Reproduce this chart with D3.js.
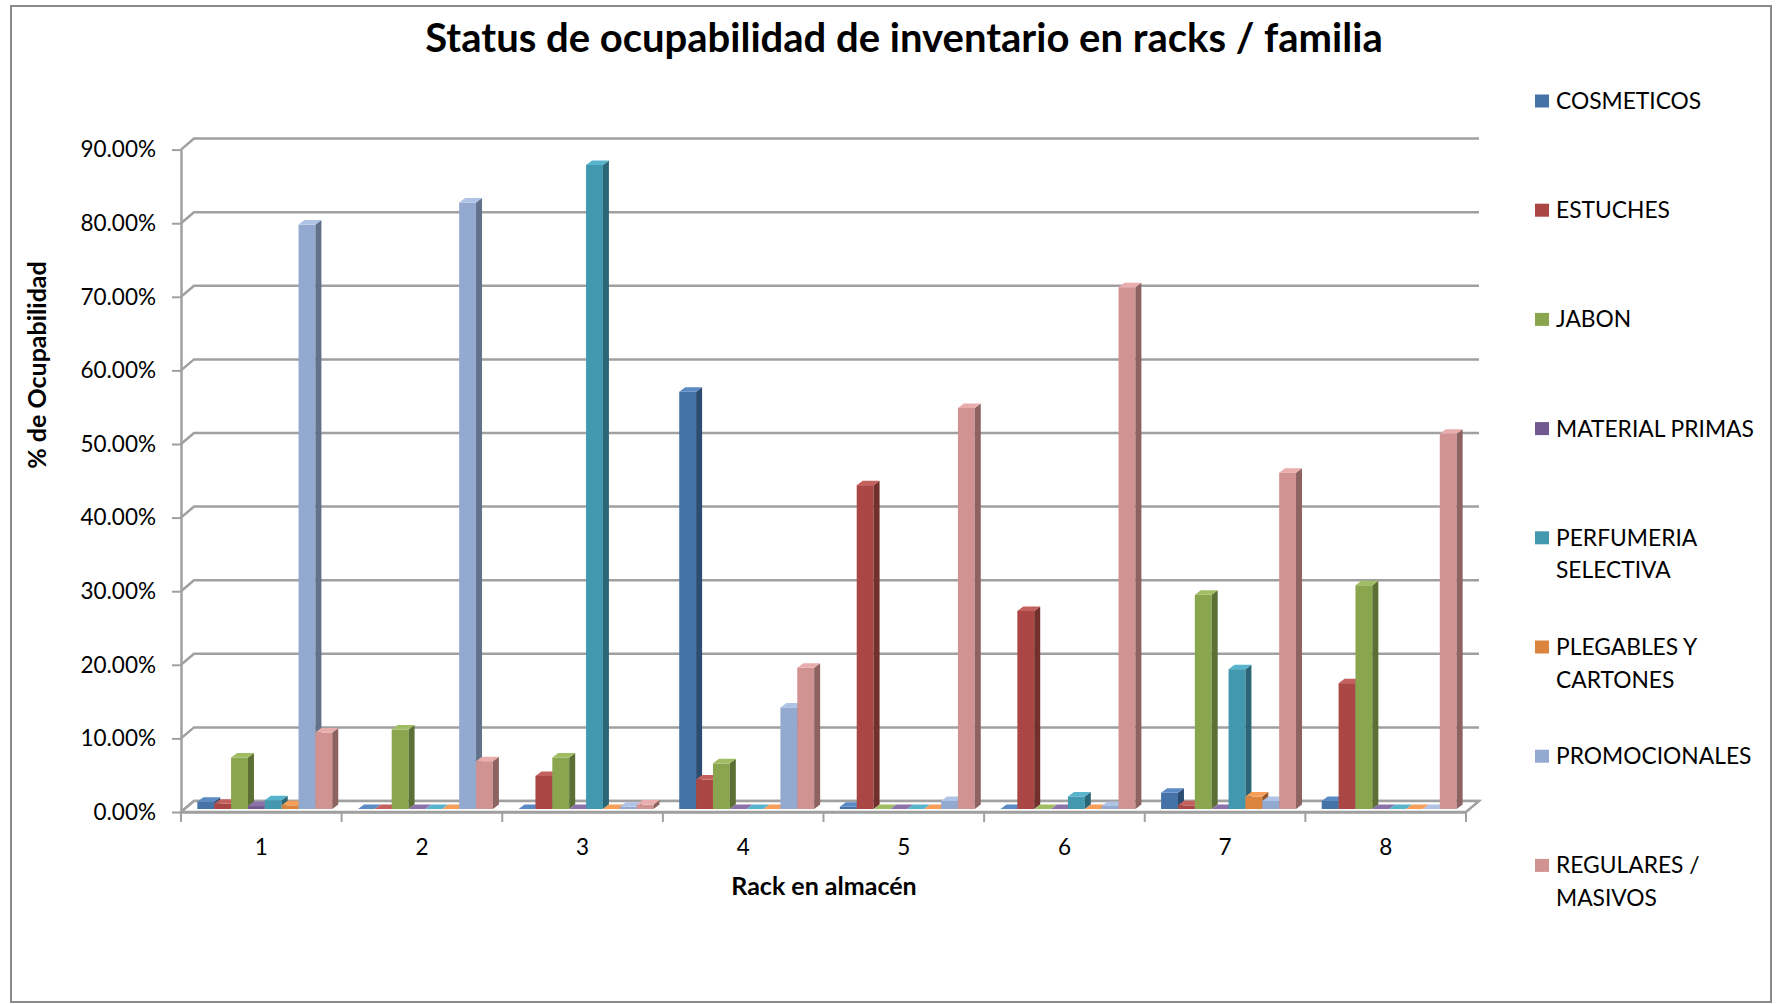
<!DOCTYPE html>
<html>
<head>
<meta charset="utf-8">
<script src="https://cdn.jsdelivr.net/npm/d3@7"></script>
<style>
  html, body { margin: 0; padding: 0; background: #fff; }
  svg { display: block; }
  text { font-family: Lato, "Open Sans", sans-serif; fill: #000; }
</style>
</head>
<body>
<svg id="chart" width="1778" height="1004"></svg>
<script>
// Racks (categories) and families (series)
const racks = ["1", "2", "3", "4", "5", "6", "7", "8"];
const families = ["COSMETICOS", "ESTUCHES", "JABON", "MATERIAL PRIMAS",
  "PERFUMERIA SELECTIVA", "PLEGABLES Y CARTONES", "PROMOCIONALES", "REGULARES / MASIVOS"];
const legendLines = [["COSMETICOS"], ["ESTUCHES"], ["JABON"], ["MATERIAL PRIMAS"],
  ["PERFUMERIA", "SELECTIVA"], ["PLEGABLES Y", "CARTONES"], ["PROMOCIONALES"], ["REGULARES /", "MASIVOS"]];

// Occupancy per rack for each family (fraction of rack)
const cosmeticos     = [0.010, 0.000, 0.000, 0.567, 0.003, 0.000, 0.022, 0.011];
const estuches       = [0.007, 0.000, 0.045, 0.040, 0.440, 0.269, 0.005, 0.171];
const jabon          = [0.070, 0.108, 0.070, 0.062, 0.000, 0.000, 0.291, 0.304];
const materialPrimas = [0.004, 0.000, 0.000, 0.000, 0.000, 0.000, 0.000, 0.000];
const perfumeria     = [0.012, 0.000, 0.875, 0.000, 0.000, 0.017, 0.190, 0.000];
const plegables      = [0.005, 0.000, 0.000, 0.000, 0.000, 0.000, 0.017, 0.000];
const promocionales  = [0.794, 0.824, 0.003, 0.138, 0.011, 0.004, 0.011, 0.000];
const regulares      = [0.104, 0.065, 0.006, 0.192, 0.545, 0.709, 0.457, 0.510];
const seriesValues = [cosmeticos, estuches, jabon, materialPrimas, perfumeria, plegables, promocionales, regulares];

const yTicks = [0, 0.1, 0.2, 0.3, 0.4, 0.5, 0.6, 0.7, 0.8, 0.9];

const title = "Status de ocupabilidad de inventario en racks / familia";
const yTitle = "% de Ocupabilidad";
const xTitle = "Rack en almacén";

// Face shades: front, side (shadowed), top (lit)
const frontColors = ["#4572A7", "#AA4643", "#89A54E", "#71588F", "#4198AF", "#DB843D", "#93A9CF", "#D19392"];
const sideColors  = ["#2D4C72", "#72302D", "#5C6F34", "#4B3B60", "#2B6676", "#945828", "#63728C", "#8D6362"];
const topColors   = ["#5B8AC4", "#C4605D", "#A1BD64", "#8B72AA", "#58B4CC", "#F79E58", "#AFC3E6", "#E8ADAC"];

const svg = d3.select("#chart");

// Chart frame
svg.append("rect")
  .attr("x", 11).attr("y", 6).attr("width", 1760).attr("height", 996)
  .attr("fill", "#fff").attr("stroke", "#8a8a8a").attr("stroke-width", 2);

// Scales
const y = d3.scaleLinear().domain([0, 0.9]).range([812, 149.6]);
const x0 = d3.scaleBand().domain(racks).range([181, 1466]).paddingInner(0.16).paddingOuter(0.08);
const x1 = d3.scaleBand().domain(families).range([0, x0.bandwidth()]);

// Oblique depth of the walls and of the columns
const wall = { dx: 13, dy: -11 };
const plane = { dx: 3.5, dy: -3 };
const depth = { dx: 6, dy: -4.5 };

const gridColor = "#a0a0a0";

// Back-wall gridlines with their side-wall diagonal
svg.append("g").selectAll("path").data(yTicks).join("path")
  .attr("d", t => `M${181},${y(t)}L${181 + wall.dx},${y(t) + wall.dy}L${1466 + wall.dx},${y(t) + wall.dy}`)
  .attr("fill", "none").attr("stroke", gridColor).attr("stroke-width", 2.5);

// Floor
svg.append("path")
  .attr("d", `M181,${y(0)}L1466,${y(0)}L${1466 + wall.dx},${y(0) + wall.dy}L${181 + wall.dx},${y(0) + wall.dy}Z`)
  .attr("fill", "#fff").attr("stroke", gridColor).attr("stroke-width", 2.5);

// Y axis
const yAxis = svg.append("g").attr("transform", "translate(181,0)")
  .call(d3.axisLeft(y).tickValues(yTicks).tickFormat(d3.format(".2%"))
    .tickSize(9).tickSizeOuter(0).tickPadding(16));
yAxis.select(".domain").attr("stroke", gridColor).attr("stroke-width", 2.5);
yAxis.selectAll(".tick line").attr("stroke", gridColor).attr("stroke-width", 2);
yAxis.selectAll(".tick text").style("font-family", "Lato, sans-serif").style("font-size", "22.5px").attr("fill", "#000");

// X axis
const xAxis = svg.append("g").attr("transform", `translate(0,${y(0)})`)
  .call(d3.axisBottom(x0).tickSize(0).tickSizeOuter(0).tickPadding(27));
xAxis.select(".domain").attr("stroke", gridColor).attr("stroke-width", 2.5);
xAxis.selectAll(".tick text").style("font-family", "Lato, sans-serif").style("font-size", "22.5px").attr("fill", "#000");

// Category boundary ticks
const boundaries = d3.range(racks.length + 1).map(i => x0.range()[0] + i * x0.step());
svg.append("g").selectAll("line").data(boundaries).join("line")
  .attr("x1", d => d).attr("x2", d => d)
  .attr("y1", y(0)).attr("y2", y(0) + 10)
  .attr("stroke", gridColor).attr("stroke-width", 2);

// Columns: front, side and top faces, drawn left to right
const bars = [];
racks.forEach((r, ri) => {
  families.forEach((f, si) => {
    bars.push({ rack: r, family: f, si, value: seriesValues[si][ri] });
  });
});

const w = x1.bandwidth();
const barG = svg.append("g").selectAll("g").data(bars).join("g");

barG.each(function (d) {
  const g = d3.select(this);
  const xf = x0(d.rack) + x1(d.family) + plane.dx;
  const yb = y(0) + plane.dy;
  const yt = y(d.value) + plane.dy;
  g.append("rect")
    .attr("x", xf).attr("y", yt).attr("width", w).attr("height", Math.max(0, yb - yt))
    .attr("fill", frontColors[d.si]);
  g.append("path")
    .attr("d", `M${xf + w},${yt}L${xf + w + depth.dx},${yt + depth.dy}L${xf + w + depth.dx},${yb + depth.dy}L${xf + w},${yb}Z`)
    .attr("fill", sideColors[d.si]);
  g.append("path")
    .attr("d", `M${xf},${yt}L${xf + w},${yt}L${xf + w + depth.dx},${yt + depth.dy}L${xf + depth.dx},${yt + depth.dy}Z`)
    .attr("fill", topColors[d.si]);
});

// Title
svg.append("text")
  .attr("x", 904).attr("y", 52)
  .attr("text-anchor", "middle")
  .style("font-size", "40px").style("font-weight", "bold")
  .text(title);

// Axis titles
svg.append("text")
  .attr("transform", "translate(37,365) rotate(-90)")
  .attr("text-anchor", "middle").attr("dy", "0.35em")
  .style("font-size", "25px").style("font-weight", "bold")
  .text(yTitle);

svg.append("text")
  .attr("x", 824).attr("y", 895)
  .attr("text-anchor", "middle")
  .style("font-size", "25px").style("font-weight", "bold")
  .text(xTitle);

// Legend
const legend = svg.append("g").selectAll("g").data(families).join("g")
  .attr("transform", (d, i) => `translate(1535,${101 + i * 109.2})`);
legend.append("rect")
  .attr("x", 0).attr("y", -6.5).attr("width", 14).attr("height", 13)
  .attr("fill", (d, i) => frontColors[i]);
legend.append("text")
  .attr("x", 21).attr("y", 8)
  .style("font-size", "22.8px")
  .each(function (d, i) {
    d3.select(this).selectAll("tspan").data(legendLines[i]).join("tspan")
      .attr("x", 21).attr("dy", (t, j) => j === 0 ? 0 : 32.5)
      .text(t => t);
  });
</script>
</body>
</html>
